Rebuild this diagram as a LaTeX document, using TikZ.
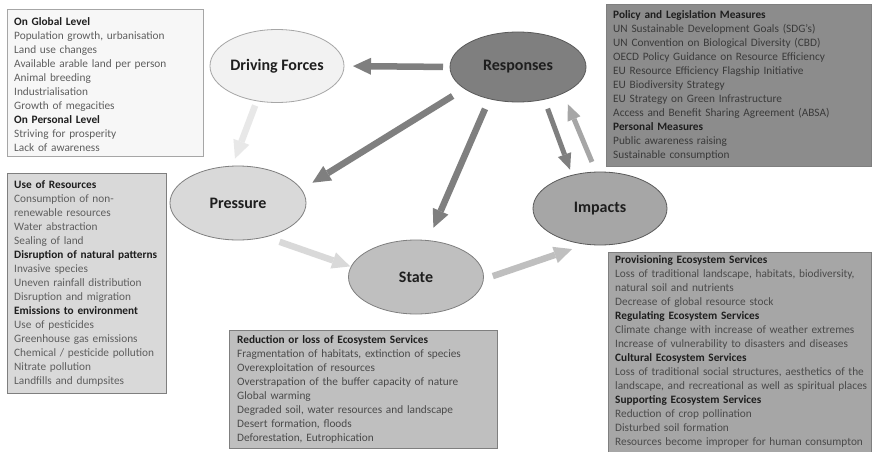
\documentclass[tikz,border=0pt]{standalone}
\usepackage{fontspec}
\setmainfont{Carlito}
\usetikzlibrary{arrows.meta,shapes.geometric}

\definecolor{fillA}{HTML}{F2F2F2}
\definecolor{fillB}{HTML}{D9D9D9}
\definecolor{fillC}{HTML}{BFBFBF}
\definecolor{fillD}{HTML}{A6A6A6}
\definecolor{fillE}{HTML}{7F7F7F}
\definecolor{boxE}{HTML}{8C8C8C}
\definecolor{edgeA}{HTML}{A6A6A6}
\definecolor{edgeB}{HTML}{7F7F7F}
\definecolor{edgeC}{HTML}{5A5A5A}
\definecolor{arrowA}{HTML}{E8E8E8}
\definecolor{txtLight}{HTML}{5E5E5E}
\definecolor{txtMid}{HTML}{4A4A4A}
\definecolor{txtDark}{HTML}{3A3A3A}
\definecolor{headTxt}{HTML}{1E1E1E}

\tikzset{
  infobox/.style={draw=edgeA, line width=0.9pt, rectangle, anchor=north west,
    inner sep=0pt, outer sep=0pt},
  boxtext/.style={anchor=base west, inner sep=0pt, align=left, text width=262pt,
    font=\fontsize{11.3}{14}\selectfont},
  stage/.style={ellipse, draw, line width=0.8pt, inner sep=0pt, outer sep=0pt,
    minimum width=135pt, minimum height=73pt, text=headTxt,
    font=\fontsize{16}{18}\selectfont\bfseries},
  bigarrow/.style={line width=6.5pt,
    -{Triangle[length=18pt,width=17pt,line width=0pt]}},
  thinarrow/.style={line width=5pt,
    -{Triangle[length=16pt,width=14pt,line width=0pt]}},
}
\newcommand{\hd}[1]{\textcolor{headTxt}{\textbf{#1}}}

\begin{document}
\begin{tikzpicture}[x=1pt,y=-1pt]
\useasboundingbox[fill=white] (0,0) rectangle (872,452);

% ---------- text panels ----------
\node[infobox, fill=white!97!black, minimum width=196pt, minimum height=147pt] (dfbox) at (7,9) {};
\node[boxtext, text=txtLight] (dftext) at (14,25.5) {%
\hd{On Global Level}\\
Population growth, urbanisation\\
Land use changes\\
Available arable land per person\\
Animal breeding\\
Industrialisation\\
Growth of megacities\\
\hd{On Personal Level}\\
Striving for prosperity\\
Lack of awareness};

\node[infobox, fill=boxE, draw=edgeB, minimum width=265pt, minimum height=162pt] (rbox) at (606,4) {};
\node[boxtext, text=txtDark] (rtext) at (613,18.5) {%
\hd{Policy and Legislation Measures}\\
UN Sustainable Development Goals (SDG's)\\
UN Convention on Biological Diversity (CBD)\\
OECD Policy Guidance on Resource Efficiency\\
EU Resource Efficiency Flagship Initiative\\
EU Biodiversity Strategy\\
EU Strategy on Green Infrastructure\\
Access and Benefit Sharing Agreement (ABSA)\\
\hd{Personal Measures}\\
Public awareness raising\\
Sustainable consumption};

\node[infobox, fill=fillB, draw=edgeB, minimum width=159pt, minimum height=220pt] (pbox) at (7,173) {};
\node[boxtext, text=txtLight] (ptext) at (14,188.5) {%
\hd{Use of Resources}\\
Consumption of non-\\
renewable resources\\
Water abstraction\\
Sealing of land\\
\hd{Disruption of natural patterns}\\
Invasive species\\
Uneven rainfall distribution\\
Disruption and migration\\
\hd{Emissions to environment}\\
Use of pesticides\\
Greenhouse gas emissions\\
Chemical / pesticide pollution\\
Nitrate pollution\\
Landfills and dumpsites};

\node[infobox, fill=fillC, draw=edgeB, minimum width=268pt, minimum height=118pt] (sbox) at (229,330) {};
\node[boxtext, text=txtMid] (stext) at (237,343.5) {%
\hd{Reduction or loss of Ecosystem Services}\\
Fragmentation of habitats, extinction of species\\
Overexploitation of resources\\
Overstrapation of the buffer capacity of nature\\
Global warming\\
Degraded soil, water resources and landscape\\
Desert formation, floods\\
Deforestation, Eutrophication};

\node[infobox, fill=fillD, draw=edgeB, minimum width=263pt, minimum height=200pt] (ibox) at (608,252) {};
\node[boxtext, text=txtMid] (itext) at (615,263.5) {%
\hd{Provisioning Ecosystem Services}\\
Loss of traditional landscape, habitats, biodiversity,\\
natural soil and nutrients\\
Decrease of global resource stock\\
\hd{Regulating Ecosystem Services}\\
Climate change with increase of weather extremes\\
Increase of vulnerability to disasters and diseases\\
\hd{Cultural Ecosystem Services}\\
Loss of traditional social structures, aesthetics of the\\
landscape, and recreational as well as spiritual places\\
\hd{Supporting Ecosystem Services}\\
Reduction of crop pollination\\
Disturbed soil formation\\
Resources become improper for human consumpton};

% ---------- DPSIR stages ----------
\node[stage, fill=fillA, draw=edgeA, minimum width=134pt] (df) at (277,66) {Driving Forces};
\node[stage, fill=fillE, draw=edgeC, minimum width=136pt, minimum height=70pt] (resp) at (518,67) {Responses};
\node[stage, fill=fillB, draw=edgeB, minimum width=136pt, minimum height=74pt] (press) at (238,203) {Pressure};
\node[stage, fill=fillC, draw=edgeB, minimum height=74pt] (state) at (416,277) {State};
\node[stage, fill=fillD, draw=edgeC, minimum width=134pt] (imp) at (600,208.5) {Impacts};

% ---------- causal chain ----------
\draw[bigarrow, draw=arrowA, shorten <=5pt, shorten >=8pt] (df.240) -- (press.99);
\draw[bigarrow, draw=fillB, shorten <=15pt, shorten >=1pt] (press.309) -- (state.171);
\draw[bigarrow, draw=fillC, shorten <=10pt, shorten >=15pt] (state.358) -- (imp.249);
\draw[thinarrow, draw=fillD, shorten <=11pt, shorten >=12pt] (imp.96) -- (resp.330);

% ---------- responses acting on the chain ----------
\draw[bigarrow, draw=fillE, shorten <=7pt, shorten >=9pt] (resp.180) -- (df.0);
\draw[bigarrow, draw=fillE, shorten <=14pt, shorten >=13pt] (resp.202) -- (press.12);
\draw[bigarrow, draw=fillE, shorten <=11pt, shorten >=14pt] (resp.228) -- (state.72);
\draw[thinarrow, draw=fillE, shorten <=10pt, shorten >=6pt] (resp.309) -- (imp.130);
\end{tikzpicture}
\end{document}
